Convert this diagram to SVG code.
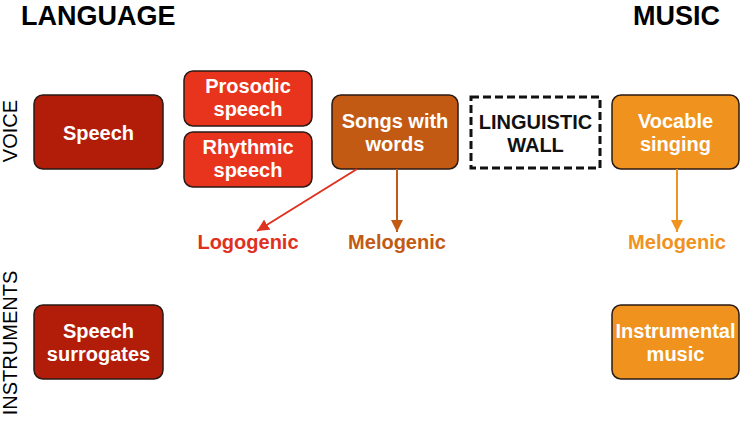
<svg xmlns="http://www.w3.org/2000/svg" width="748" height="421" viewBox="0 0 748 421">
<defs>
<style>
text{font-family:"Liberation Sans",Arial,sans-serif}
.box{stroke:#2a1a14;stroke-width:1.5}
.bt{fill:#fff;font-weight:bold;font-size:20px;text-anchor:middle}
.hd{font-weight:bold;font-size:27px;fill:#000}
.side{font-size:20px;fill:#000;text-anchor:middle}
.lbl{font-weight:bold;font-size:20px;text-anchor:middle}
</style>
<marker id="ahR" viewBox="0 0 10 10" refX="10" refY="5" markerWidth="6" markerHeight="6" orient="auto" markerUnits="strokeWidth"><path d="M0,0 L10,5 L0,10 z" fill="#e0301e"/></marker>
<marker id="ahB" viewBox="0 0 10 10" refX="10" refY="5" markerWidth="6" markerHeight="6" orient="auto" markerUnits="strokeWidth"><path d="M0,0 L10,5 L0,10 z" fill="#c25a14"/></marker>
<marker id="ahO" viewBox="0 0 10 10" refX="10" refY="5" markerWidth="6" markerHeight="6" orient="auto" markerUnits="strokeWidth"><path d="M0,0 L10,5 L0,10 z" fill="#f0921e"/></marker>
</defs>
<rect width="748" height="421" fill="#fff"/>
<text class="hd" x="21" y="25">LANGUAGE</text>
<text class="hd" x="720" y="25" text-anchor="end">MUSIC</text>
<text class="side" transform="translate(17,131) rotate(-90)">VOICE</text>
<text class="side" transform="translate(17,343) rotate(-90)">INSTRUMENTS</text>

<g id="speech"><rect class="box" x="34" y="95" width="129" height="74" rx="9" fill="#b21d0a"/><text class="bt" x="98.5" y="140">Speech</text></g>
<g id="prosodic"><rect class="box" x="184" y="71" width="128" height="55" rx="9" fill="#e8341c"/><text class="bt" x="248" y="93">Prosodic</text><text class="bt" x="248" y="116">speech</text></g>
<g id="rhythmic"><rect class="box" x="184" y="132" width="128" height="55" rx="9" fill="#e8341c"/><text class="bt" x="248" y="154">Rhythmic</text><text class="bt" x="248" y="177">speech</text></g>
<g id="songs"><rect class="box" x="332" y="95" width="126" height="74" rx="9" fill="#c25a14"/><text class="bt" x="395" y="128">Songs with</text><text class="bt" x="395" y="151">words</text></g>
<g id="wall"><rect x="471" y="97" width="129" height="71" fill="#fff" stroke="#111" stroke-width="3" stroke-dasharray="8,4"/><text class="bt" x="535.5" y="129" style="fill:#111">LINGUISTIC</text><text class="bt" x="535.5" y="152" style="fill:#111">WALL</text></g>
<g id="vocable"><rect class="box" x="612" y="95" width="127" height="74" rx="9" fill="#f0921e"/><text class="bt" x="675.5" y="128">Vocable</text><text class="bt" x="675.5" y="151">singing</text></g>
<g id="surrogates"><rect class="box" x="34" y="305" width="129" height="74" rx="9" fill="#b21d0a"/><text class="bt" x="98.5" y="338">Speech</text><text class="bt" x="98.5" y="361">surrogates</text></g>
<g id="instrumental"><rect class="box" x="612" y="305" width="127" height="74" rx="9" fill="#f0921e"/><text class="bt" x="675.5" y="338" font-size="19">Instrumental</text><text class="bt" x="675.5" y="361">music</text></g>

<g id="connectors" stroke-width="2" fill="none">
<line x1="357" y1="169" x2="257" y2="231" stroke="#e0301e" marker-end="url(#ahR)"/>
<line x1="397" y1="169" x2="397" y2="232" stroke="#c25a14" marker-end="url(#ahB)"/>
<line x1="677" y1="169" x2="677" y2="232" stroke="#f0921e" marker-end="url(#ahO)"/>
</g>
<g id="labels">
<text class="lbl" x="248" y="249" fill="#e0301e">Logogenic</text>
<text class="lbl" x="397" y="249" fill="#c25a14">Melogenic</text>
<text class="lbl" x="677" y="249" fill="#f0921e">Melogenic</text>
</g>
</svg>
